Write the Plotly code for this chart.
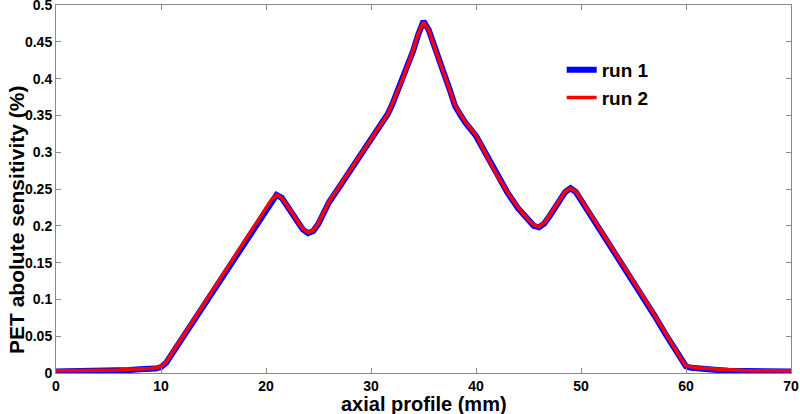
import plotly.graph_objects as go

# axial position (mm)
axial_mm = [0, 1, 2, 3, 4, 5, 6, 7, 8, 9, 9.5, 10, 10.5, 11, 12, 13, 14, 15, 16, 17, 18, 19, 20,
            20.5, 21, 21.5, 22, 23, 23.5, 24, 24.5, 25, 26, 27, 28, 29, 30, 31, 31.6, 32, 33, 34,
            34.5, 35, 35.5, 36, 37, 37.5, 38, 38.5, 39, 40, 41, 42, 43, 44, 45, 45.5, 46, 46.5,
            47, 48, 48.5, 49, 49.5, 50, 51, 52, 53, 54, 55, 56, 57, 58, 59, 59.5, 60, 60.5, 61,
            62, 63, 64, 65, 66, 67, 68, 69, 70]

run1 = [0.002, 0.002, 0.002, 0.003, 0.003, 0.003, 0.004, 0.004, 0.005, 0.005, 0.006, 0.008, 0.014,
        0.025, 0.047, 0.069, 0.091, 0.113, 0.134, 0.156, 0.178, 0.199, 0.221,
        0.234, 0.242, 0.238, 0.227, 0.205, 0.195, 0.190, 0.193, 0.203, 0.232, 0.253, 0.274,
        0.295, 0.317, 0.339, 0.352, 0.364, 0.398, 0.437,
        0.460, 0.478, 0.466, 0.444, 0.405, 0.385, 0.363, 0.351, 0.340, 0.322, 0.296, 0.268,
        0.245, 0.224, 0.207, 0.200, 0.198, 0.203, 0.213, 0.235, 0.246, 0.251, 0.246, 0.235,
        0.213, 0.191, 0.168, 0.146, 0.124, 0.101, 0.078, 0.054, 0.031, 0.019, 0.009, 0.007,
        0.006, 0.005, 0.004, 0.003, 0.003, 0.003, 0.002, 0.002, 0.002, 0.002]

run2 = [0.003, 0.003, 0.003, 0.003, 0.004, 0.004, 0.004, 0.005, 0.005, 0.006, 0.007, 0.009, 0.015,
        0.026, 0.048, 0.070, 0.092, 0.114, 0.135, 0.157, 0.179, 0.200, 0.222,
        0.235, 0.242, 0.238, 0.228, 0.206, 0.196, 0.191, 0.194, 0.204, 0.233, 0.254, 0.275,
        0.296, 0.318, 0.340, 0.352, 0.365, 0.399, 0.438,
        0.461, 0.477, 0.466, 0.445, 0.406, 0.386, 0.364, 0.352, 0.341, 0.323, 0.297, 0.269,
        0.246, 0.225, 0.208, 0.201, 0.199, 0.204, 0.214, 0.236, 0.247, 0.251, 0.247, 0.236,
        0.214, 0.192, 0.169, 0.147, 0.125, 0.102, 0.079, 0.055, 0.032, 0.020, 0.010, 0.008,
        0.007, 0.006, 0.005, 0.004, 0.004, 0.003, 0.003, 0.003, 0.003, 0.003]

x_ticks = [0, 10, 20, 30, 40, 50, 60, 70]
y_ticks = [0, 0.05, 0.1, 0.15, 0.2, 0.25, 0.3, 0.35, 0.4, 0.45, 0.5]
y_tick_text = ["0", "0.05", "0.1", "0.15", "0.2", "0.25", "0.3", "0.35", "0.4", "0.45", "0.5"]

FONT = "Liberation Sans"
AXIS_GRAY = "#8a8a8a"

fig = go.Figure()
fig.add_trace(go.Scatter(x=axial_mm, y=run1, mode="lines", name="run 1",
                         line=dict(color="#0000ff", width=6)))
fig.add_trace(go.Scatter(x=axial_mm, y=run2, mode="lines", name="run 2",
                         line=dict(color="#ff0000", width=3.5)))

axis_common = dict(showline=True, linecolor=AXIS_GRAY, linewidth=1, mirror="ticks",
                   ticks="inside", ticklen=5, tickcolor=AXIS_GRAY, showgrid=False,
                   zeroline=False, automargin=False, ticklabeloverflow="allow",
                   tickfont=dict(family=FONT, size=14, color="black", weight="bold"))

fig.update_layout(
    width=800, height=414,
    margin=dict(l=56, r=9, t=5, b=41),
    paper_bgcolor="white", plot_bgcolor="white",
    xaxis=dict(range=[0, 70], tickvals=x_ticks, ticktext=[str(v) for v in x_ticks],
               **axis_common),
    yaxis=dict(range=[0, 0.5], tickvals=y_ticks, ticktext=y_tick_text,
               **axis_common),
    legend=dict(x=0.688, y=0.875, xanchor="left", yanchor="top",
                bgcolor="rgba(0,0,0,0)",
                font=dict(family=FONT, size=19, color="black", weight="bold"),
                tracegroupgap=0),
    showlegend=True,
    annotations=[
        dict(text="axial profile (mm)", xref="paper", yref="paper", x=0.5, y=0,
             xanchor="center", yanchor="middle", yshift=-31, showarrow=False,
             font=dict(family=FONT, size=20, color="black", weight="bold")),
        dict(text="PET abolute sensitivity (%)", xref="paper", yref="paper", x=0,
             y=(373 - 220) / 368, xanchor="center", yanchor="middle", xshift=-40,
             textangle=-90, showarrow=False,
             font=dict(family=FONT, size=21, color="black", weight="bold")),
    ],
)

fig.write_html("out.html", config={"displayModeBar": False},
               post_script="document.body.style.margin='0';document.body.style.overflow='hidden';")
